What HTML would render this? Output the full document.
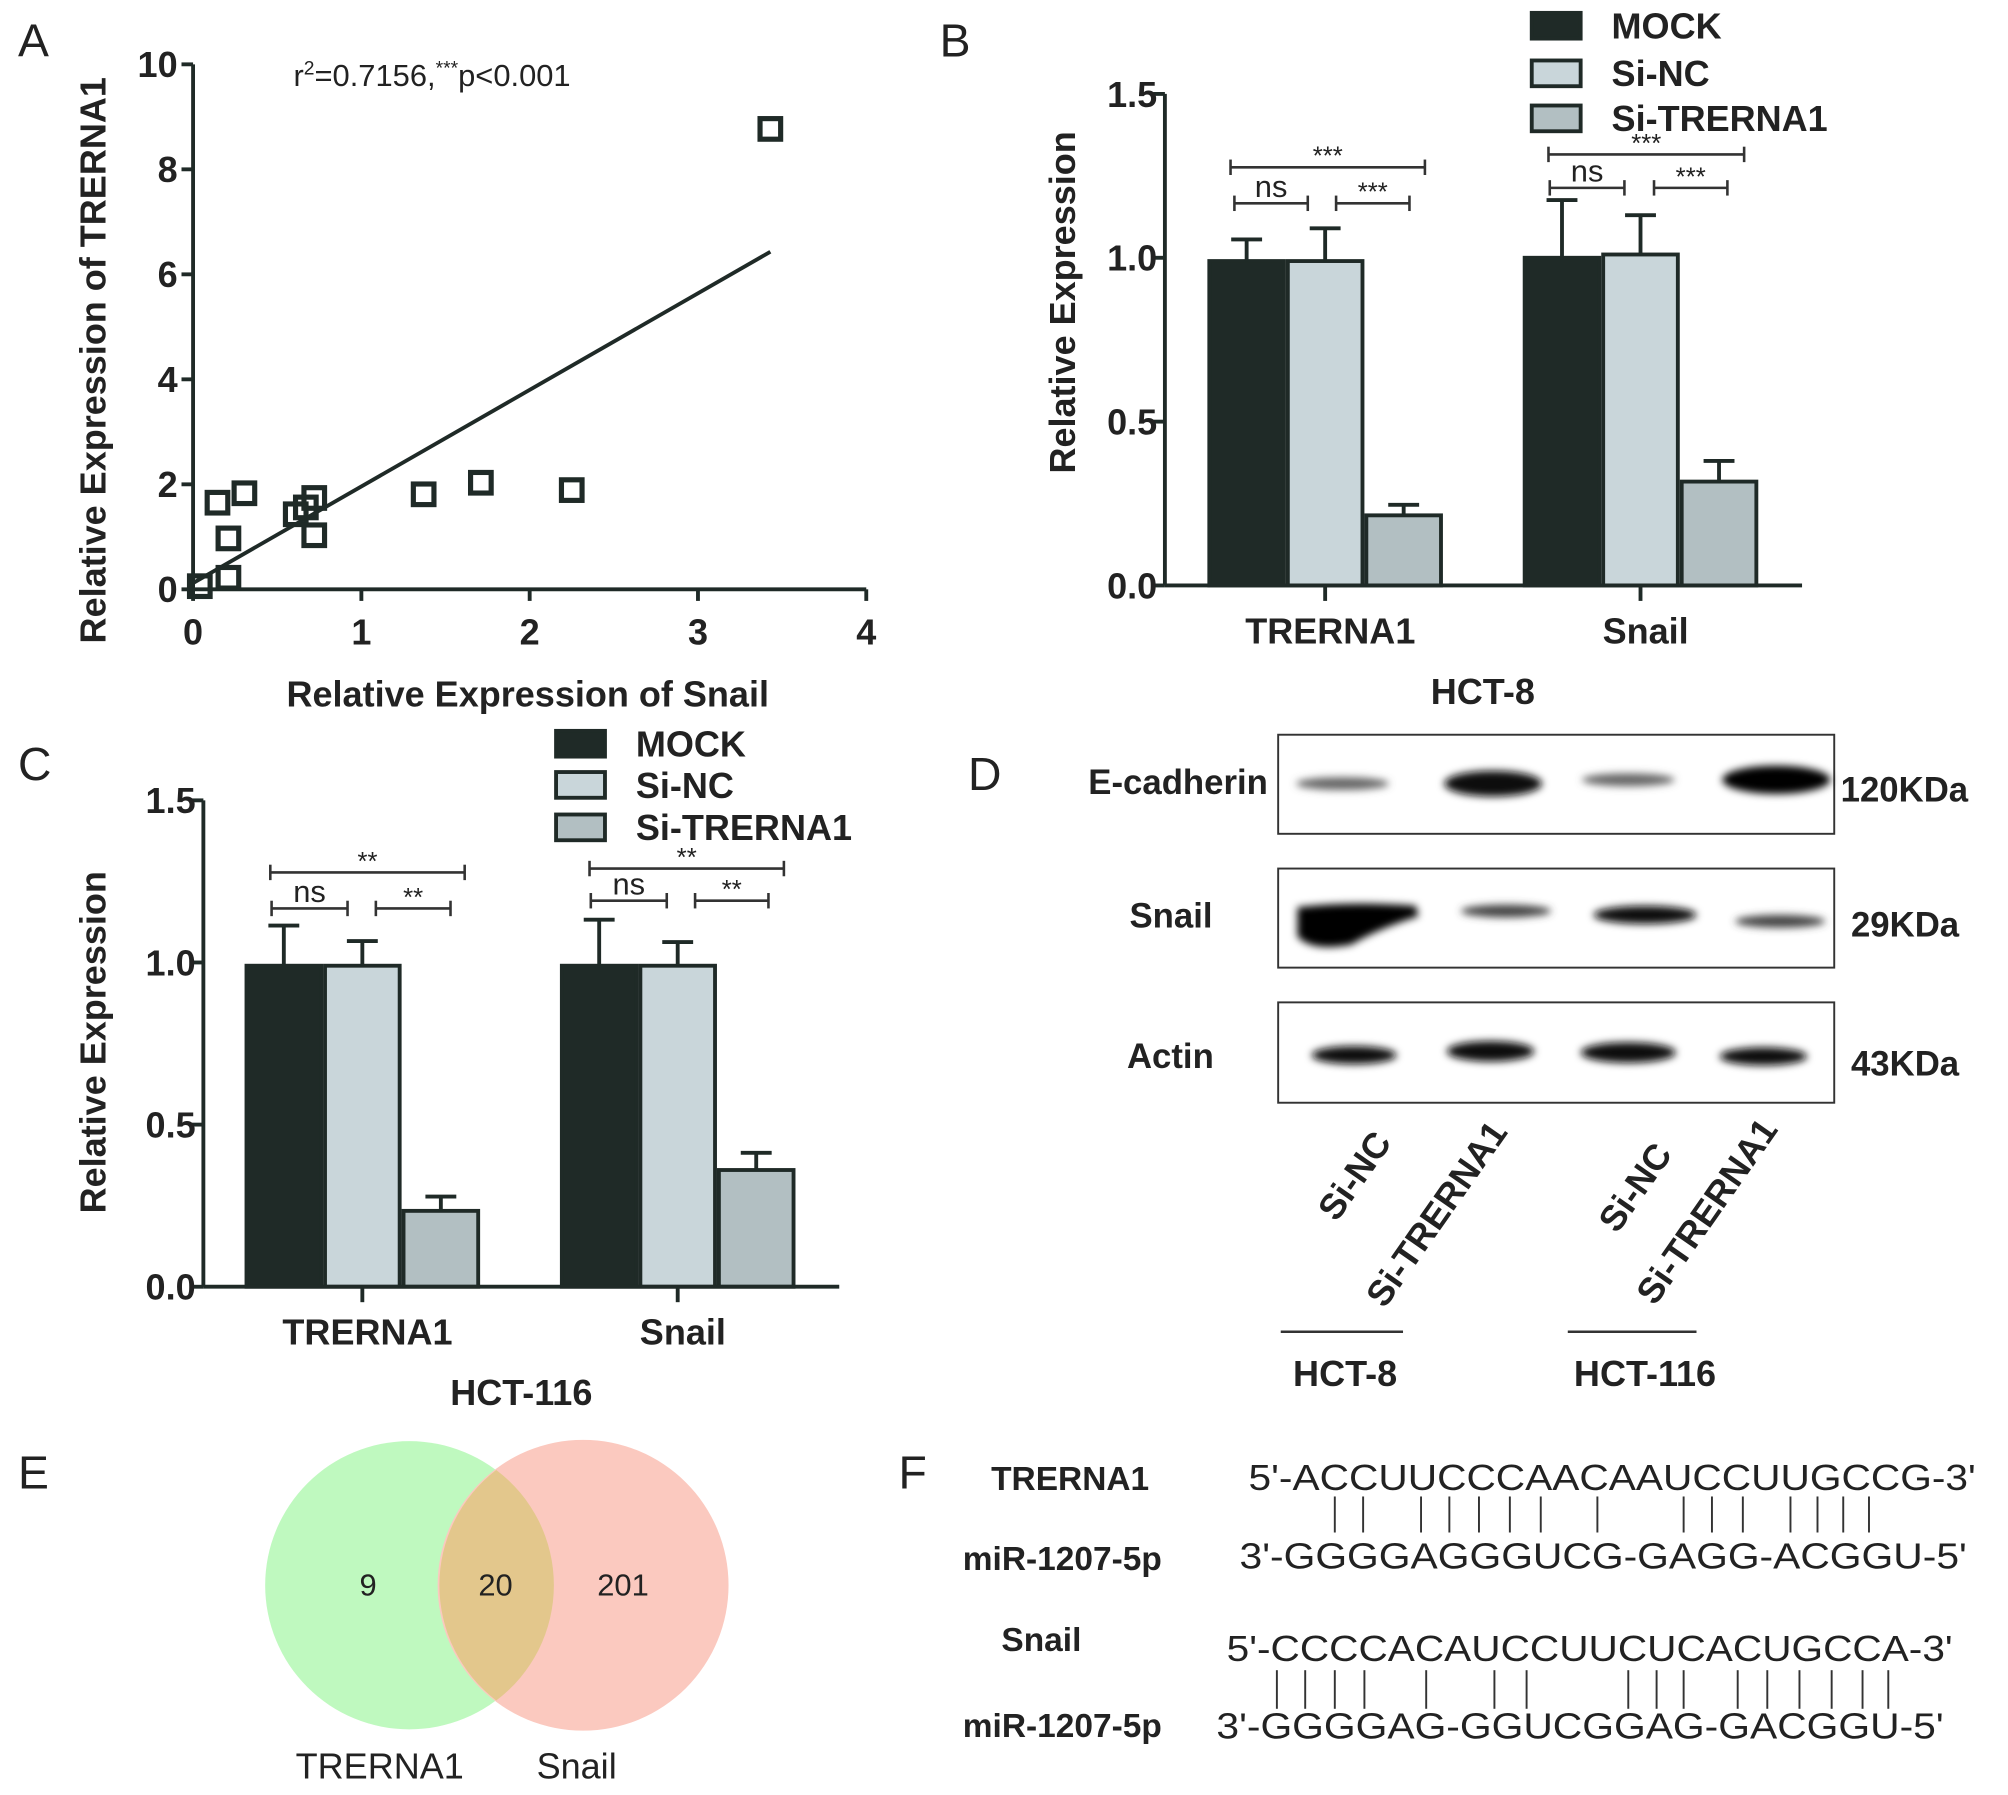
<!DOCTYPE html>
<html><head><meta charset="utf-8">
<style>
html,body{margin:0;padding:0;background:#fff;}
svg{display:block;}
text{font-family:"Liberation Sans",sans-serif;fill:#222;}
.b{font-weight:bold;}
</style></head>
<body>
<svg id="fig" width="2008" height="1795" viewBox="0 0 1560 1395" preserveAspectRatio="none" xmlns="http://www.w3.org/2000/svg">
<defs>
<filter id="blur" x="-20%" y="-50%" width="140%" height="200%"><feGaussianBlur stdDeviation="3"/></filter>
</defs>
<g id="panelA"></g>
<g id="panelB"></g>
<g id="panelC"></g>
<g id="panelD">
  <text x="752" y="614" font-size="36">D</text>
  <rect x="993" y="571" width="432" height="77" fill="#fff" stroke="#333" stroke-width="1.5"/>
  <rect x="993" y="675" width="432" height="77" fill="#fff" stroke="#333" stroke-width="1.5"/>
  <rect x="993" y="779" width="432" height="78" fill="#fff" stroke="#333" stroke-width="1.5"/>
  <g filter="url(#blur)">
    <ellipse cx="1043" cy="609" rx="36" ry="5" fill="#666"/>
    <ellipse cx="1160" cy="609" rx="38" ry="10" fill="#111"/>
    <ellipse cx="1265" cy="606" rx="36" ry="5" fill="#666"/>
    <ellipse cx="1380" cy="606" rx="42" ry="11" fill="#000"/>
    <path d="M1008,705 Q1050,700 1100,704 L1102,712 Q1070,722 1050,734 Q1020,740 1008,728 Z" fill="#000"/>
    <ellipse cx="1170" cy="708" rx="35" ry="5" fill="#444"/>
    <ellipse cx="1278" cy="711" rx="40" ry="7" fill="#111"/>
    <ellipse cx="1383" cy="716" rx="35" ry="5" fill="#444"/>
    <ellipse cx="1052" cy="820" rx="33" ry="7" fill="#111"/>
    <ellipse cx="1158" cy="817" rx="34" ry="8" fill="#111"/>
    <ellipse cx="1265" cy="818" rx="37" ry="8" fill="#111"/>
    <ellipse cx="1370" cy="821" rx="34" ry="7" fill="#111"/>
  </g>
  <text x="985" y="617" font-size="27" class="b" text-anchor="end">E-cadherin</text>
  <text x="942" y="721" font-size="27" class="b" text-anchor="end">Snail</text>
  <text x="943" y="830" font-size="27" class="b" text-anchor="end">Actin</text>
  <text x="1430" y="623" font-size="27" class="b">120KDa</text>
  <text x="1438" y="728" font-size="27" class="b">29KDa</text>
  <text x="1438" y="836" font-size="27" class="b">43KDa</text>
  <text transform="translate(1082,888) rotate(-55)" font-size="28" class="b" text-anchor="end">Si-NC</text>
  <text transform="translate(1172,880) rotate(-55)" font-size="28" class="b" text-anchor="end">Si-TRERNA1</text>
  <text transform="translate(1300,897) rotate(-55)" font-size="28" class="b" text-anchor="end">Si-NC</text>
  <text transform="translate(1382,878) rotate(-55)" font-size="28" class="b" text-anchor="end">Si-TRERNA1</text>
  <line x1="995" y1="1035" x2="1090" y2="1035" stroke="#333" stroke-width="2"/>
  <line x1="1218" y1="1035" x2="1318" y2="1035" stroke="#333" stroke-width="2"/>
  <text x="1045" y="1077" font-size="28" class="b" text-anchor="middle">HCT-8</text>
  <text x="1278" y="1077" font-size="28" class="b" text-anchor="middle">HCT-116</text>
</g>
<g id="panelE">
  <text x="14" y="1157" font-size="36">E</text>
  <circle cx="318" cy="1232" r="112" fill="#bff9bf"/>
  <circle cx="453" cy="1232" r="113" fill="#fbc9bf"/>
  <path d="M385.5,1142.4 A112,112 0 0 1 385.5,1321.6 A113,113 0 0 1 385.5,1142.4 Z" fill="#e3c78c"/>
  <text x="286" y="1240" font-size="24" text-anchor="middle">9</text>
  <text x="385" y="1240" font-size="24" text-anchor="middle">20</text>
  <text x="484" y="1240" font-size="24" text-anchor="middle">201</text>
  <text x="295" y="1382" font-size="28" text-anchor="middle">TRERNA1</text>
  <text x="448" y="1382" font-size="28" text-anchor="middle">Snail</text>
</g>
<g id="panelF">
  <text x="698" y="1157" font-size="36">F</text>
  <text x="770" y="1158" font-size="26" class="b">TRERNA1</text>
  <text x="748" y="1220" font-size="26" class="b">miR-1207-5p</text>
  <text x="778" y="1283" font-size="26" class="b">Snail</text>
  <text x="748" y="1350" font-size="26" class="b">miR-1207-5p</text>
  <text x="970" y="1158" font-size="28" textLength="565" lengthAdjust="spacingAndGlyphs">5'-ACCUUCCCAACAAUCCUUGCCG-3'</text>
  <text x="963" y="1219" font-size="28" textLength="565" lengthAdjust="spacingAndGlyphs">3'-GGGGAGGGUCG-GAGG-ACGGU-5'</text>
  <text x="953" y="1291" font-size="28" textLength="564" lengthAdjust="spacingAndGlyphs">5'-CCCCACAUCCUUCUCACUGCCA-3'</text>
  <text x="945" y="1351" font-size="28" textLength="565" lengthAdjust="spacingAndGlyphs">3'-GGGGAG-GGUCGGAG-GACGGU-5'</text>
  <g id="pairs1" stroke="#333" stroke-width="1.5"></g>
  <g id="pairs2" stroke="#333" stroke-width="1.5"></g>
</g>
</svg>
<script>
// ---- Panel A data ----
const scatterX = [0.145,0.305,0.21,0.21,0.04,0.61,0.67,0.72,0.72,1.37,1.71,2.25,3.43];
const scatterY = [1.65,1.83,0.97,0.22,0.06,1.43,1.56,1.74,1.03,1.81,2.03,1.89,8.77];
const fitX = [0.0,3.43];
const fitY = [0.12,6.43];
const aXTicks = [0,1,2,3,4];
const aYTicks = [0,2,4,6,8,10];
// ---- Panel B/C data ----
const barCategories = ['TRERNA1','Snail'];
const seriesNames = ['MOCK','Si-NC','Si-TRERNA1'];
const bMock = [0.99,1.0];
const bSiNC = [0.99,1.01];
const bSiTR = [0.214,0.317];
const bMockErr = [0.066,0.176];
const bSiNCErr = [0.10,0.12];
const bSiTRErr = [0.032,0.063];
const cMock = [0.99,0.99];
const cSiNC = [0.99,0.99];
const cSiTR = [0.234,0.36];
const cMockErr = [0.124,0.142];
const cSiNCErr = [0.076,0.073];
const cSiTRErr = [0.044,0.053];
const barYTicks = [0.0,0.5,1.0,1.5];
const pairs1 = [1037,1059,1104,1126,1149,1173,1197,1241,1308,1330,1354,1391,1412,1432,1452];
const pairs2 = [992,1014,1037,1060,1108,1161,1186,1265,1287,1308,1350,1373,1398,1423,1447,1467];

const NS='http://www.w3.org/2000/svg';
function el(parent,tag,attrs,text){const e=document.createElementNS(NS,tag);for(const k in attrs)e.setAttribute(k,attrs[k]);if(text!==undefined)e.textContent=text;parent.appendChild(e);return e;}
const C='#1f2a27';

// Panel A
(function(){
  const g=document.getElementById('panelA');
  const x0=150,x1=673,y0=458,y1=50;
  const sx=v=>x0+(v-0)/4*(x1-x0), sy=v=>y0-(v/10)*(y0-y1);
  let t=el(g,'text',{x:14,y:44,'font-size':36});t.textContent='A';
  
  
  let ax=el(g,'line',{x1:x0,y1:y0,x2:x1,y2:y0,stroke:C,'stroke-width':3});
  
  
  let ay=el(g,'line',{x1:x0,y1:y0,x2:x0,y2:y1,stroke:C,'stroke-width':3});
  
  
  aXTicks.forEach(v=>{el(g,'line',{x1:sx(v),y1:y0,x2:sx(v),y2:y0+9,stroke:C,'stroke-width':3});
    const l=el(g,'text',{x:sx(v),y:y0+43,'font-size':28,'text-anchor':'middle',class:'b'},String(v));
    
    });
  aYTicks.forEach(v=>{el(g,'line',{x1:x0-9,y1:sy(v),x2:x0,y2:sy(v),stroke:C,'stroke-width':3});
    const l=el(g,'text',{x:x0-12,y:sy(v)+10,'font-size':28,'text-anchor':'end',class:'b'},String(v));
    
    });
  const xt=el(g,'text',{x:410,y:549,'font-size':28,'text-anchor':'middle',class:'b'},'Relative Expression of Snail');
  
  
  const yt=el(g,'text',{transform:'translate(82,280) rotate(-90)','font-size':28,'text-anchor':'middle',class:'b'},'Relative Expression of TRERNA1');
  
  
  const st=el(g,'text',{x:228,y:67,'font-size':24});
  st.innerHTML='r<tspan dy="-9" font-size="15">2</tspan><tspan dy="9">=0.7156,</tspan><tspan dy="-9" font-size="15">***</tspan><tspan dy="9">p&lt;0.001</tspan>';
  
  
  const fl=el(g,'line',{x1:sx(fitX[0]),y1:sy(fitY[0]),x2:sx(fitX[1]),y2:sy(fitY[1]),stroke:C,'stroke-width':3});
  
  
  scatterX.forEach((v,i)=>{const r=el(g,'rect',{x:sx(v)-8,y:sy(scatterY[i])-8,width:16,height:16,fill:'none',stroke:C,'stroke-width':4});
    
    });
})();

function barPanel(id,cfg){
  const g=document.getElementById(id);
  const {x0,x1,y0,y1,groups,vals,errs,letter,lx,ly,leg,sig,ylab,title,titleX,titleY}=cfg;
  const sy=v=>y0-(v/1.5)*(y0-y1);
  if(letter){const t=el(g,'text',{x:lx,y:ly,'font-size':36},letter);
    
    }
  const fills=[C,'#c9d6da','#b2bfc2'];
  barCategories.forEach((cat,ci)=>{
    const gx=groups[ci];const bw=(gx[1]-gx[0])/3;
    vals.forEach((arr,si)=>{
      const bx=gx[0]+si*bw, top=sy(arr[ci]), et=sy(arr[ci]+errs[si][ci]);
      const bar=el(g,'rect',{x:bx+1.5,y:top,width:bw-3,height:y0-top,fill:fills[si],stroke:C,'stroke-width':3});
      
      
      const e1=el(g,'line',{x1:bx+bw/2,y1:top,x2:bx+bw/2,y2:et,stroke:C,'stroke-width':3});
      
      
      el(g,'line',{x1:bx+bw/2-12,y1:et,x2:bx+bw/2+12,y2:et,stroke:C,'stroke-width':3});
    });
    const cx=(gx[0]+gx[1])/2;
    el(g,'line',{x1:cx,y1:y0,x2:cx,y2:y0+12,stroke:C,'stroke-width':3});
    const l=el(g,'text',{x:cx+4,y:y0+45,'font-size':28,'text-anchor':'middle',class:'b'},cat);
    
    
  });
  const ax=el(g,'line',{x1:x0,y1:y0,x2:x1,y2:y0,stroke:C,'stroke-width':3});
  
  
  const ay=el(g,'line',{x1:x0,y1:y0,x2:x0,y2:y1,stroke:C,'stroke-width':3});
  
  
  barYTicks.forEach(v=>{el(g,'line',{x1:x0-9,y1:sy(v),x2:x0,y2:sy(v),stroke:C,'stroke-width':3});
    const l=el(g,'text',{x:x0-6,y:sy(v)+10,'font-size':28,'text-anchor':'end',class:'b'},v.toFixed(1));
    
    });
  const yt=el(g,'text',{transform:`translate(${ylab[0]},${ylab[1]}) rotate(-90)`,'font-size':28,'text-anchor':'middle',class:'b'},'Relative Expression');
  
  
  const tt=el(g,'text',{x:titleX,y:titleY,'font-size':28,'text-anchor':'middle',class:'b'},title);
  
  
  seriesNames.forEach((n,i)=>{
    const yy=leg.y[i];
    const r=el(g,'rect',{x:leg.x,y:yy-10,width:38,height:20,fill:fills[i],stroke:C,'stroke-width':3});
    
    
    const t=el(g,'text',{x:leg.x+62,y:yy+10,'font-size':28,class:'b'},n);
    
    
  });
  sig.forEach(s=>{
    const [a,b,y,lab]=s;
    el(g,'line',{x1:a,y1:y,x2:b,y2:y,stroke:'#333','stroke-width':2});
    el(g,'line',{x1:a,y1:y-6,x2:a,y2:y+6,stroke:'#333','stroke-width':2});
    el(g,'line',{x1:b,y1:y-6,x2:b,y2:y+6,stroke:'#333','stroke-width':2});
    const t=el(g,'text',{x:(a+b)/2,y:lab==='ns'?y-5:y-2,'font-size':lab==='ns'?24:20,'text-anchor':'middle'},lab);
    
    
  });
}
barPanel('panelB',{x0:905,x1:1400,y0:455,y1:73,groups:[[938,1121],[1183,1366]],
  vals:[bMock,bSiNC,bSiTR],errs:[bMockErr,bSiNCErr,bSiTRErr],letter:'B',lx:730,ly:44,
  leg:{x:1190,y:[20,57,92]},ylab:[835,235],title:'HCT-8',titleX:1152,titleY:547,
  sig:[[956,1107,130,'***'],[959,1016,158,'ns'],[1038,1095,158,'***'],[1203,1355,120,'***'],[1204,1262,146,'ns'],[1285,1342,146,'***']]});
barPanel('panelC',{x0:158,x1:652,y0:1000,y1:622,groups:[[190,373],[435,618]],
  vals:[cMock,cSiNC,cSiTR],errs:[cMockErr,cSiNCErr,cSiTRErr],letter:'C',lx:14,ly:606,
  leg:{x:432,y:[578,610,643]},ylab:[82,810],title:'HCT-116',titleX:405,titleY:1092,
  sig:[[210,361,678,'**'],[211,270,706,'ns'],[292,350,706,'**'],[458,609,675,'**'],[459,518,700,'ns'],[540,597,700,'**']]});

(function(){
  const g1=document.getElementById('pairs1'),g2=document.getElementById('pairs2');
  pairs1.forEach(x=>{const l=el(g1,'line',{x1:x,y1:1163,x2:x,y2:1191});
    
    });
  pairs2.forEach(x=>{const l=el(g2,'line',{x1:x,y1:1298,x2:x,y2:1328});
    
    });
})();
</script>
</body></html>
